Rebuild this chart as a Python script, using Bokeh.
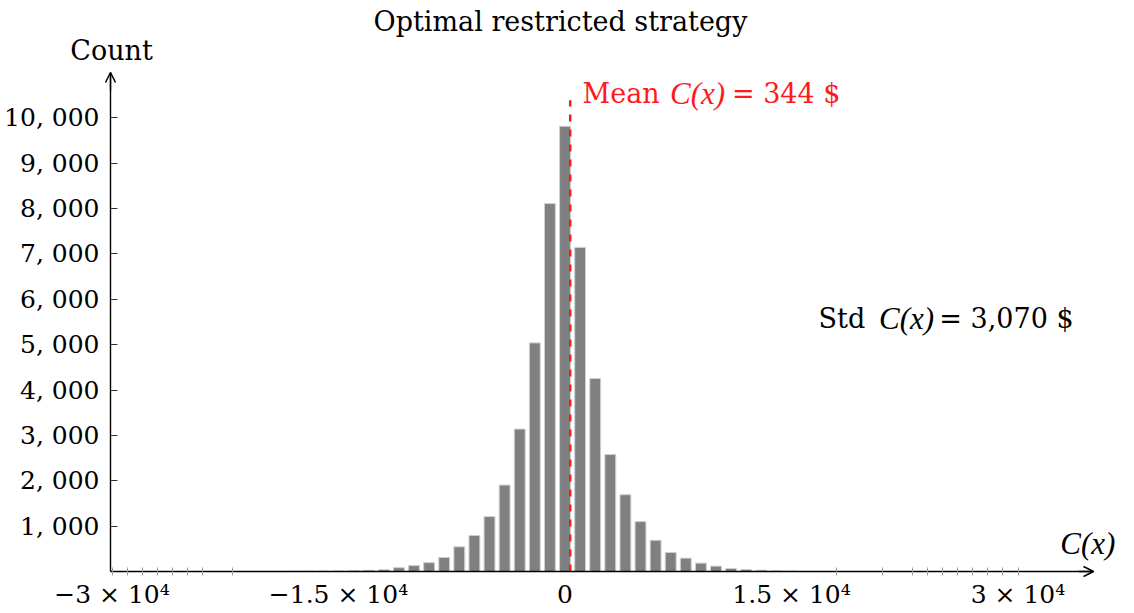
from bokeh.plotting import figure
from bokeh.models import FixedTicker, Label, Arrow, OpenHead, Range1d, LinearAxis
from bokeh.embed import file_html
from bokeh.resources import INLINE

# ---- data ----
bin_centers = [-18000, -17000, -16000, -15000, -14000, -13000, -12000, -11000,
               -10000, -9000, -8000, -7000, -6000, -5000, -4000, -3000, -2000,
               -1000, 0, 1000, 2000, 3000, 4000, 5000, 6000, 7000, 8000, 9000,
               10000, 11000, 12000, 13000, 14000, 15000]
counts = [3, 5, 8, 12, 18, 28, 40, 85,
          130, 195, 310, 545, 795, 1210, 1905, 3140, 5040,
          8110, 9815, 7145, 4255, 2578, 1692, 1100, 688, 420, 294, 184,
          118, 66, 44, 29, 15, 8]
mean_cost = 344
std_cost = 3070

x_major = [-30000, -15000, 0, 15000, 30000]
x_labels = ["\u22123 \u00d7 10\u2074", "\u22121.5 \u00d7 10\u2074", "0",
            "1.5 \u00d7 10\u2074", "3 \u00d7 10\u2074"]
x_minor = [-30000, -29000, -28000, -27000, -26000, -25000, -24000, -22000,
           18000, 21000, 23000, 24000, 25000, 26000, 27000, 28000, 29000, 30000]
y_ticks = [1000, 2000, 3000, 4000, 5000, 6000, 7000, 8000, 9000, 10000]
y_labels = ["1, 000", "2, 000", "3, 000", "4, 000", "5, 000",
            "6, 000", "7, 000", "8, 000", "9, 000", "10, 000"]

FONT = "DejaVu Serif"
MATH_FONT = "Liberation Serif"
RED = "#ff1a1a"

# axis extents (data units) and the visible window around them
ax_x0, ax_x1 = -30100, 35000
ax_y0, ax_y1 = 0, 11000
view_x0, view_x1 = -37385, 37185
view_y0, view_y1 = -904, 12588

p = figure(width=1126, height=612,
           x_range=Range1d(view_x0, view_x1), y_range=Range1d(view_y0, view_y1),
           output_backend="svg", toolbar_location=None,
           x_axis_location=None, y_axis_location=None,
           min_border_left=0, min_border_right=0, min_border_top=0,
           min_border_bottom=0)
p.outline_line_color = None
p.xgrid.visible = False
p.ygrid.visible = False
p.background_fill_color = "white"
p.border_fill_color = "white"

p.vbar(x=bin_centers, top=counts, width=720, bottom=0,
       fill_color="#808080", line_color="#d0d0d0", line_width=1)

# mean line
p.segment(x0=[mean_cost], y0=[0], x1=[mean_cost], y1=[10390],
          line_color=RED, line_width=2.5, line_dash="7 8")

# x axis
xa = LinearAxis(fixed_location=0, bounds=(ax_x0, ax_x1))
xa.ticker = FixedTicker(ticks=x_major, minor_ticks=x_minor)
xa.major_label_overrides = {k: v for k, v in zip(x_major, x_labels)}
xa.major_tick_in = 0
xa.major_tick_out = 0
xa.minor_tick_in = 4
xa.minor_tick_out = 4
xa.minor_tick_line_color = "#9a9a9a"
xa.axis_line_width = 1.4
xa.axis_line_color = "black"
xa.major_label_text_font = FONT
xa.major_label_text_font_size = "25px"
xa.major_label_text_color = "black"
xa.major_label_standoff = 5
p.add_layout(xa, "below")

# y axis
ya = LinearAxis(fixed_location=ax_x0, bounds=(ax_y0, ax_y1))
ya.ticker = FixedTicker(ticks=y_ticks)
ya.major_label_overrides = {k: v for k, v in zip(y_ticks, y_labels)}
ya.major_tick_in = 7
ya.major_tick_out = 0
ya.minor_tick_line_color = None
ya.major_tick_line_color = "#333333"
ya.axis_line_width = 1.4
ya.axis_line_color = "black"
ya.major_label_text_font = FONT
ya.major_label_text_font_size = "25px"
ya.major_label_text_color = "black"
ya.major_label_standoff = 11
p.add_layout(ya, "left")

# axis arrow heads
p.add_layout(Arrow(end=OpenHead(size=10, line_width=1.5, line_color="black"),
                   x_start=ax_x0, y_start=ax_y1 - 400, x_end=ax_x0, y_end=ax_y1,
                   line_width=1.4, line_color="black"))
p.add_layout(Arrow(end=OpenHead(size=10, line_width=1.5, line_color="black"),
                   x_start=ax_x1 - 1000, y_start=0, x_end=ax_x1, y_end=0,
                   line_width=1.4, line_color="black"))


def lab(x, y, text, align="left", color="black", italic=False):
    p.add_layout(Label(x=x, y=y, text=text,
                       text_font=MATH_FONT if italic else FONT,
                       text_font_size="31px" if italic else "27px",
                       text_font_style="italic" if italic else "normal",
                       text_align=align, text_baseline="middle",
                       text_color=color))


# texts
lab(-300, 12125, "Optimal restricted strategy", align="center")
lab(-30030, 11486, "Count", align="center")
lab(32800, 617, "C(x)", italic=True)

# Mean C(x) = 344 $
lab(1160, 10538, "Mean", color=RED)
lab(8780, 10538, "C(x)", align="center", color=RED, italic=True)
lab(18240, 10538, f"= {mean_cost} $", align="right", color=RED)

# Std C(x) = 3,070 $
lab(16790, 5578, "Std")
lab(22620, 5578, "C(x)", align="center", italic=True)
lab(33680, 5578, f"= {std_cost:,} $", align="right")

open("out.html", "w").write(file_html(p, INLINE))
